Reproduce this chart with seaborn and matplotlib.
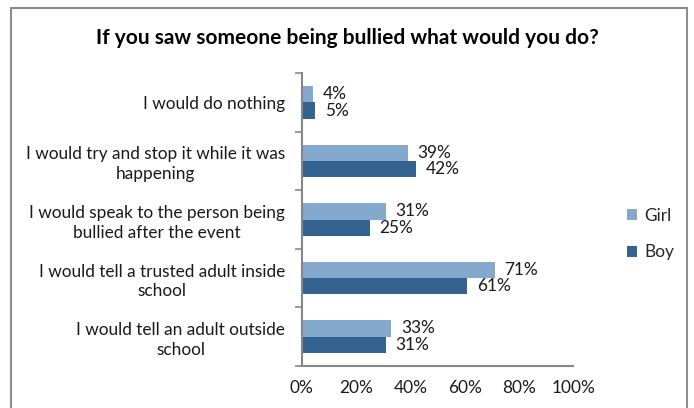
import matplotlib
matplotlib.use("Agg")
import matplotlib.pyplot as plt
import seaborn as sns
import pandas as pd
from matplotlib.patches import Rectangle
from matplotlib.ticker import FixedLocator, FuncFormatter

categories = [
    "I would do nothing",
    "I would try and stop it while it was\nhappening",
    "I would speak to the person being\nbullied after the event",
    "I would tell a trusted adult inside\nschool",
    "I would tell an adult outside\nschool",
]
girl = [4, 39, 31, 71, 33]
boy = [5, 42, 25, 61, 31]
groups = ["Girl", "Boy"]
x_ticks = [0, 20, 40, 60, 80, 100]

df = pd.DataFrame({
    "response": categories * 2,
    "group": ["Girl"] * len(categories) + ["Boy"] * len(categories),
    "pct": [v / 100 for v in girl + boy],
})

sns.set_theme(style="white")
plt.rcParams["font.family"] = ["Lato", "DejaVu Sans"]

FS = 12.4
fig = plt.figure(figsize=(6.94, 4.08), dpi=100)
ax = fig.add_axes([0.435, 0.103, 0.391, 0.718])

palette = {"Girl": "#85A8CD", "Boy": "#35638F"}
sns.barplot(data=df, y="response", x="pct", hue="group", hue_order=groups,
            order=categories, orient="h", palette=palette, width=0.56,
            saturation=1, linewidth=0, ax=ax)

for cont, vals in zip(ax.containers, [girl, boy]):
    ax.bar_label(cont, labels=[f"{v}%" for v in vals], padding=7,
                 fontsize=FS, color="#1a1a1a")

ax.set_xlim(0, 1)
ax.set_ylim(len(categories) - 0.5, -0.5)
ax.set_xlabel("")
ax.set_ylabel("")

ax.xaxis.set_major_locator(FixedLocator([t / 100 for t in x_ticks]))
ax.xaxis.set_major_formatter(FuncFormatter(lambda v, p: f"{round(v * 100)}%"))
ax.tick_params(axis="x", direction="out", length=5, width=1.2,
               color="#868686", labelsize=FS, labelcolor="#1a1a1a", pad=5)

ax.set_yticks(range(len(categories)))
ax.set_yticklabels(categories, ha="right", multialignment="center", linespacing=1.3)
ax.tick_params(axis="y", which="major", length=0, labelsize=FS,
               labelcolor="#1a1a1a", pad=12)
ax.yaxis.set_minor_locator(FixedLocator([i - 0.5 for i in range(len(categories) + 1)]))
ax.tick_params(axis="y", which="minor", direction="out", length=5, width=1.2,
               color="#868686", left=True)

for side in ["top", "right"]:
    ax.spines[side].set_visible(False)
for side in ["left", "bottom"]:
    ax.spines[side].set_color("#868686")
    ax.spines[side].set_linewidth(1.5)

leg = ax.legend(loc="center left", bbox_to_anchor=(1.14, 0.45), frameon=False,
                fontsize=FS, handlelength=0.6, handleheight=0.6,
                labelspacing=1.2, handletextpad=0.4)

fig.text(0.5, 0.907, "If you saw someone being bullied what would you do?",
         ha="center", va="center", fontsize=15, fontweight="bold", color="#000000")

fig.patches.append(Rectangle((11 / 694, -0.05), (687 - 11) / 694, 1.05 - 8 / 408,
                             transform=fig.transFigure, fill=False,
                             edgecolor="#8c8c8c", linewidth=1.5))

fig.savefig("out.png", dpi=100, facecolor="white")
